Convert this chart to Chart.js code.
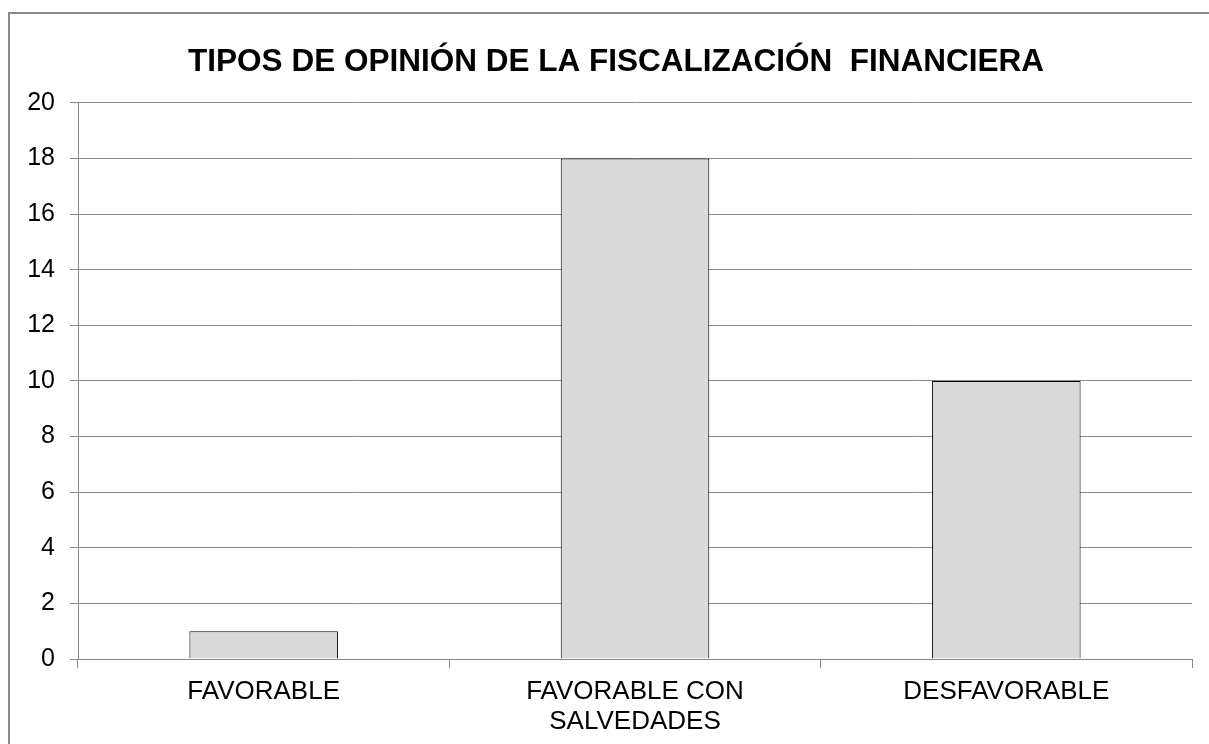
<!DOCTYPE html>
<html>
<head>
<meta charset="utf-8">
<script src="https://cdn.jsdelivr.net/npm/chart.js@4/dist/chart.umd.min.js"></script>
<style>
  html, body { margin: 0; padding: 0; background: #fff; overflow: hidden; }
  #frame {
    position: absolute; left: 8px; top: 12px; width: 1220px; height: 800px;
    border-left: 2px solid #8a8a8a; border-top: 2px solid #8a8a8a;
  }
  #chartCanvas { position: absolute; left: 0; top: 0; }
</style>
</head>
<body>
<div id="frame"></div>
<canvas id="chartCanvas" width="1209" height="744"></canvas>
<script>
const categories = ['FAVORABLE', ['FAVORABLE CON', 'SALVEDADES'], 'DESFAVORABLE'];
const valores = [1, 18, 10];
const yMin = 0;
const yMax = 20;
const yStep = 2;
const titulo = 'TIPOS DE OPINIÓN DE LA FISCALIZACIÓN  FINANCIERA';

const gris = '#8a8a8a';
const fuente = 'Liberation Sans, Arial, sans-serif';

// el título del original no está centrado en el lienzo, sino algo a la derecha
const correrTitulo = {
  id: 'correrTitulo',
  afterLayout(chart) {
    if (chart.titleBlock) chart.titleBlock.left += 40;
  }
};

const ctx = document.getElementById('chartCanvas').getContext('2d');
new Chart(ctx, {
  type: 'bar',
  data: {
    labels: categories,
    datasets: [{
      data: valores,
      backgroundColor: '#d9d9d9',
      borderColor: '#000',
      borderWidth: 1,
      barPercentage: 0.4,
      categoryPercentage: 1
    }]
  },
  options: {
    responsive: false,
    animation: false,
    layout: { padding: { left: 0, right: 17, top: 0, bottom: 0 } },
    plugins: {
      legend: { display: false },
      tooltip: { enabled: false },
      title: {
        display: true,
        text: titulo,
        color: '#000',
        font: { family: fuente, size: 31.5, weight: 'bold', lineHeight: 1.2 },
        padding: { top: 43, bottom: 22 }
      }
    },
    scales: {
      x: {
        afterFit: s => { s.height = 85; },
        grid: { drawOnChartArea: false, tickLength: 9, color: gris, offset: true },
        border: { color: gris, width: 1 },
        ticks: {
          color: '#000',
          padding: 9,
          font: { family: fuente, size: 26, lineHeight: 1.15 }
        }
      },
      y: {
        min: yMin,
        max: yMax,
        afterFit: s => { s.width = 78; },
        grid: { color: gris, tickLength: 8 },
        border: { color: gris, width: 1 },
        ticks: {
          stepSize: yStep,
          color: '#000',
          padding: 15,
          font: { family: fuente, size: 25 }
        }
      }
    }
  },
  plugins: [correrTitulo]
});
</script>
</body>
</html>
